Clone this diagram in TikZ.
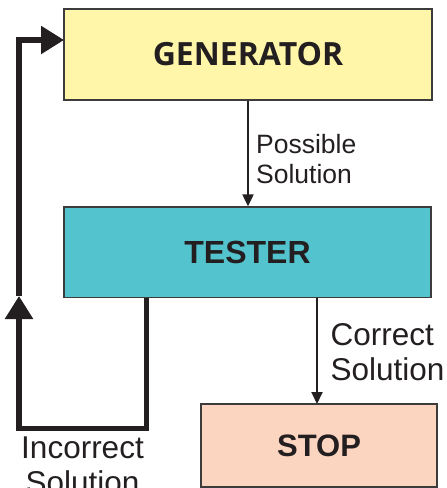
\documentclass[tikz,border=0pt]{standalone}
\usepackage{fontspec}
\setmainfont{Liberation Sans}
\newfontfamily\genfont{Open Sans}
\usetikzlibrary{arrows.meta}
\definecolor{genfill}{HTML}{FFF6A9}
\definecolor{testfill}{HTML}{53C4CE}
\definecolor{stopfill}{HTML}{FCD5C1}
\definecolor{boxline}{HTML}{3C3C3C}
\definecolor{ink}{HTML}{231F20}
\tikzset{
  block/.style={draw=boxline, line width=1.3pt, inner sep=0pt, text=ink},
  lbl/.style={inner sep=0pt, text=ink},
  thinarrow/.style={draw=ink, line width=2pt, -{Triangle[length=12pt,width=11pt]}},
  thickline/.style={draw=ink, line width=5.5pt},
  thickarrow/.style={thickline, -{Triangle[length=23pt,width=27pt]}},
}
\begin{document}
\begin{tikzpicture}[x=1pt, y=-1pt]
  \useasboundingbox (0,0) rectangle (447,488);
  \clip (0,0) rectangle (447,488);

  % the three stages
  \node[block, fill=genfill, minimum width=368pt, minimum height=91pt,
        font=\genfont\bfseries\fontsize{32}{36}\selectfont] (gen) at (248,54.5) {GENERATOR};
  \node[block, fill=testfill, minimum width=367pt, minimum height=90.5pt,
        font=\bfseries\fontsize{32}{36}\selectfont] (tester) at (247.5,252.25) {TESTER};
  \node[block, fill=stopfill, minimum width=236pt, minimum height=83pt,
        font=\bfseries\fontsize{31}{35}\selectfont] (stop) at (319,445.5) {STOP};

  % generator -> tester
  \draw[thinarrow] (gen.south) -- (gen.south |- tester.north);
  \node[lbl, anchor=base west, font=\fontsize{26.5}{30}\selectfont] (poss1) at (256,153) {Possible};
  \node[lbl, anchor=base west, font=\fontsize{26.5}{30}\selectfont] (poss2) at (256,183) {Solution};

  % tester -> stop
  \coordinate (corrtop) at (317,297.5);
  \coordinate (corrbot) at (317,404);
  \draw[thinarrow] (corrtop) -- (corrbot);
  \node[lbl, anchor=base west, font=\fontsize{31.5}{35}\selectfont] (corr1) at (330.5,345) {Correct};
  \node[lbl, anchor=base west, font=\fontsize{31.5}{35}\selectfont] (corr2) at (330.5,380) {Solution};

  % feedback loop back to the generator
  \coordinate (loopstart) at (146.5,297.5);
  \coordinate (loopbl) at (19,428.5);
  \coordinate (loopmid) at (19,296);
  \coordinate (loopend) at (64,40);
  \draw[thickarrow] (loopstart) |- (loopbl) -- (loopmid);
  \draw[thickarrow] (loopmid) |- (loopend);
  \node[lbl, anchor=base, font=\fontsize{31.5}{35}\selectfont] (inc1) at (82.5,458) {Incorrect};
  \node[lbl, anchor=base, font=\fontsize{31.5}{35}\selectfont] (inc2) at (82.5,493) {Solution};
\end{tikzpicture}
\end{document}
